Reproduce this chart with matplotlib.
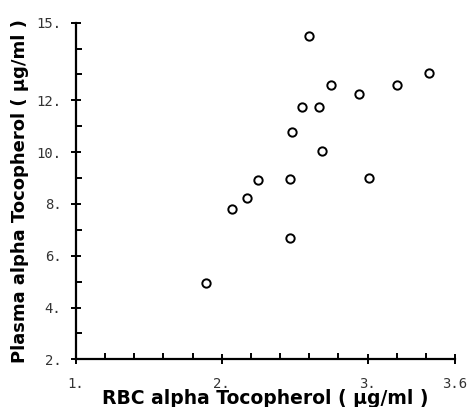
import matplotlib.pyplot as plt
from matplotlib.ticker import FixedLocator

# RBC vs plasma alpha tocopherol (ug/ml)
rbc = [1.89, 2.07, 2.17, 2.25, 2.47, 2.47, 2.48, 2.55, 2.60, 2.67, 2.69, 2.75,
       2.94, 3.01, 3.20, 3.42]
plasma = [4.96, 7.79, 8.22, 8.92, 6.70, 8.97, 10.76, 11.75, 14.48, 11.73, 10.03,
          12.58, 12.25, 9.01, 12.60, 13.07]

x_major = [1.0, 2.0, 3.0, 3.6]
x_major_labels = ["1.", "2.", "3.", "3.6"]
x_minor = [1.0 + 0.2 * i for i in range(14)]
y_major = [2, 4, 6, 8, 10, 12, 15]
y_major_labels = ["2.", "4.", "6.", "8.", "10.", "12.", "15."]
y_minor = list(range(2, 16))

fig = plt.figure(figsize=(4.73, 4.07), dpi=100)
ax = fig.add_axes([0.1607, 0.1172, 0.8013, 0.827])

ax.plot(rbc, plasma, linestyle='none', marker='o', markersize=6,
        markerfacecolor='white', markeredgecolor='black', markeredgewidth=1.4)

ax.set_xlim(1.0, 3.6)
ax.set_ylim(2, 15)

# axes frame: only left and bottom
ax.spines['top'].set_visible(False)
ax.spines['right'].set_visible(False)
for side in ['left', 'bottom']:
    ax.spines[side].set_linewidth(1.6)

ax.xaxis.set_major_locator(FixedLocator(x_major))
ax.xaxis.set_minor_locator(FixedLocator(x_minor))
ax.yaxis.set_major_locator(FixedLocator(y_major))
ax.yaxis.set_minor_locator(FixedLocator(y_minor))
ax.set_xticklabels(x_major_labels)
ax.set_yticklabels(y_major_labels)

ax.tick_params(which='major', direction='inout', length=7, width=1.4)
ax.tick_params(which='minor', direction='in', length=4, width=1.4)
ax.tick_params(axis='x', which='major', pad=9)
ax.tick_params(axis='y', which='major', pad=7)
for lab in ax.get_xticklabels() + ax.get_yticklabels():
    lab.set_fontfamily('DejaVu Sans Mono')
    lab.set_fontsize(10)
    lab.set_color('#333333')

ax.set_xlabel("RBC alpha Tocopherol ( \u00b5g/ml )", fontsize=13.5,
              fontweight='bold', family='DejaVu Sans', labelpad=-1)
ax.set_ylabel("Plasma alpha Tocopherol ( \u00b5g/ml )", fontsize=13,
              fontweight='bold', family='DejaVu Sans', labelpad=5)

fig.savefig("out.png", dpi=100)
